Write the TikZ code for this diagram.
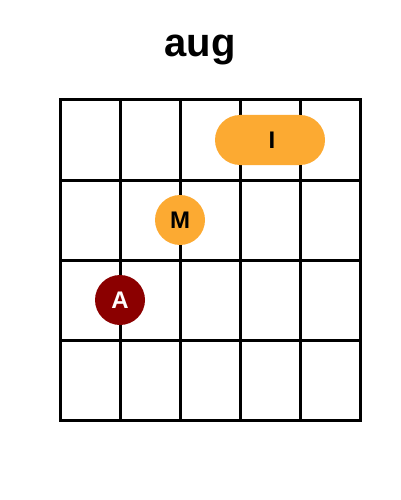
\documentclass[tikz,border=0pt]{standalone}
\usepackage{fontspec}
\setmainfont{Liberation Sans}
\definecolor{fingerorange}{RGB}{252,170,50}
\definecolor{fingerred}{RGB}{139,0,0}
\begin{document}
\begin{tikzpicture}[x=1pt,y=-1pt,
  gridline/.style={line width=3pt,black},
  finger/.style={circle,fill=fingerorange,minimum size=50pt,inner sep=0pt,font=\fontsize{24pt}{24pt}\selectfont\bfseries},
  barre/.style={rounded rectangle,fill=fingerorange,minimum height=50pt,minimum width=110pt,inner sep=0pt,font=\fontsize{24pt}{24pt}\selectfont\bfseries}]
\useasboundingbox (0,0) rectangle (400,500);
\node[anchor=base,font=\fontsize{40pt}{40pt}\selectfont\bfseries] (title) at (200,57) {aug};
\foreach \i in {0,...,5} {
  \draw[gridline] (60+60*\i,100) -- (60+60*\i,420);
}
\foreach \j in {0,...,4} {
  \draw[gridline,line cap=rect] (60,100+80*\j) -- (360,100+80*\j);
}
\fill[fingerorange,rounded corners=25pt] (215,115) rectangle (325,165);
\node[font=\fontsize{24pt}{24pt}\selectfont\bfseries] (I) at (272,140) {I};
\node[finger] (M) at (180,220) {M};
\node[finger,fill=fingerred,text=white] (A) at (120,300) {A};
\end{tikzpicture}
\end{document}
